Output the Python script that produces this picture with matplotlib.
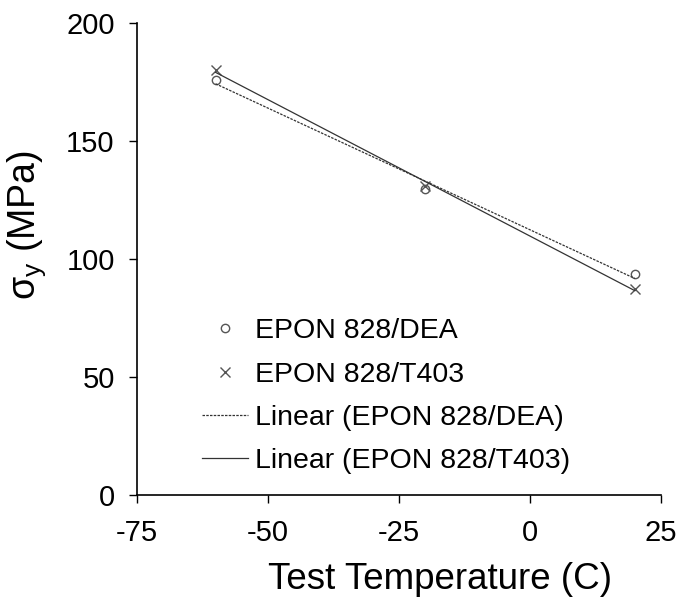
import numpy as np
import matplotlib
matplotlib.use("Agg")
from matplotlib import pyplot as plt

plt.rcParams['font.family'] = ['Liberation Sans', 'DejaVu Sans']
plt.rcParams['mathtext.fontset'] = 'custom'
plt.rcParams['mathtext.rm'] = 'Liberation Sans'
plt.rcParams['mathtext.it'] = 'Liberation Sans:italic'
plt.rcParams['axes.unicode_minus'] = False

# data
temp = [-60, -20, 20]
dea = [176, 129.5, 93.5]
t403 = [180, 131, 87.5]

xticks = [-75, -50, -25, 0, 25]
yticks = [0, 50, 100, 150, 200]

grey = "#555555"

fig = plt.figure(figsize=(6.78, 5.99), dpi=100)
ax = fig.add_axes([0.202, 0.1736, 0.773, 0.788])

ax.plot(temp, dea, linestyle="none", marker="o", markersize=6,
        markerfacecolor="none", markeredgecolor=grey, markeredgewidth=1,
        label="EPON 828/DEA")
ax.plot(temp, t403, linestyle="none", marker="x", markersize=7.5,
        color=grey, markeredgewidth=1, label="EPON 828/T403")

# linear trend lines, like the spreadsheet ones
xx = np.array([min(temp), max(temp)])
p1 = np.polyfit(temp, dea, 1)
p2 = np.polyfit(temp, t403, 1)
ax.plot(xx, np.polyval(p1, xx), linestyle=(0, (2, 1)), color="#333333",
        linewidth=0.9, label="Linear (EPON 828/DEA)")
ax.plot(xx, np.polyval(p2, xx), linestyle="-", color="#333333",
        linewidth=0.9, label="Linear (EPON 828/T403)")

ax.set_xlim(-75, 25)
ax.set_ylim(0, 200)
ax.set_xticks(xticks)
ax.set_yticks(yticks)
ax.tick_params(labelsize=21, direction="out", length=6, width=1, colors="black")
ax.tick_params(axis="y", pad=10)
ax.tick_params(axis="x", pad=11)
ax.spines["top"].set_visible(False)
ax.spines["right"].set_visible(False)
for s in ["left", "bottom"]:
    ax.spines[s].set_linewidth(1.2)

ax.set_xlabel("Test Temperature (C)", fontsize=26.5)
ax.xaxis.set_label_coords(0.578, -0.142)
ax.set_ylabel(r"σ$_\mathrm{y}$ (MPa)", fontsize=27)
ax.yaxis.set_label_coords(-0.17, 0.572)

ax.legend(loc="lower left", bbox_to_anchor=(0.103, 0.021), frameon=False,
          fontsize=20.5, handlelength=1.6, handletextpad=0.25,
          labelspacing=0.6, borderaxespad=0)

fig.savefig("out.png", dpi=100)
